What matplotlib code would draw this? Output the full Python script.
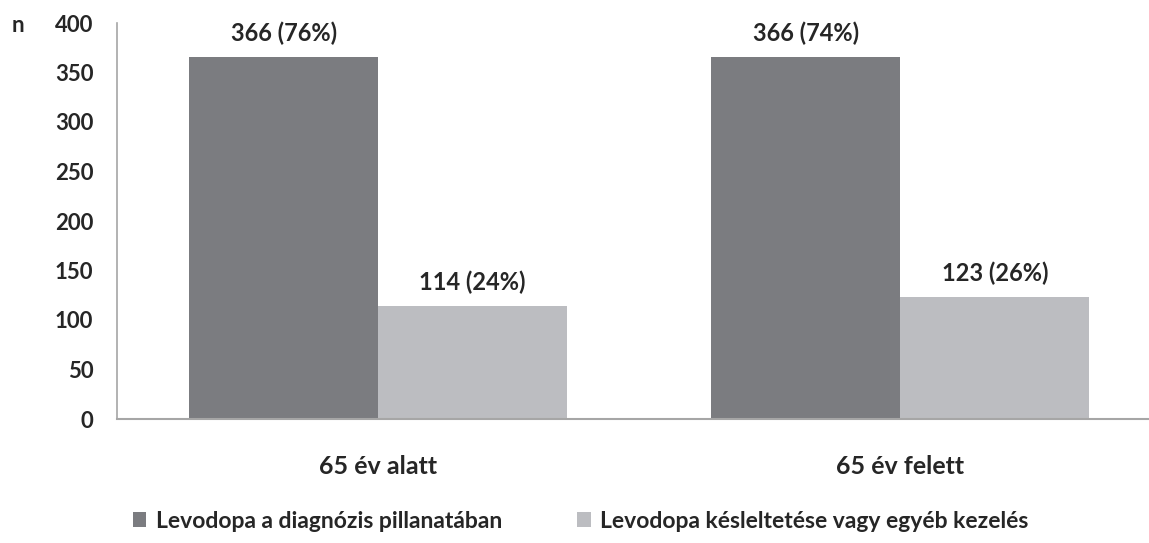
import matplotlib.pyplot as plt
import numpy as np

plt.rcParams['font.family'] = ['Lato', 'DejaVu Sans']

categories = ["65 év alatt", "65 év felett"]
series_names = ["Levodopa a diagnózis pillanatában",
                "Levodopa késleltetése vagy egyéb kezelés"]
levodopa_now = [366, 366]
levodopa_later = [114, 123]
labels_now = ["366 (76%)", "366 (74%)"]
labels_later = ["114 (24%)", "123 (26%)"]
yticks = [0, 50, 100, 150, 200, 250, 300, 350, 400]

dark = "#7b7c80"
light = "#bcbdc1"
axis_col = "#a6a6a6"
txt = "#262626"

fig = plt.figure(figsize=(11.49, 5.43), dpi=100)
ax = fig.add_axes([117 / 1149, 1 - 419 / 543, 1 - 117 / 1149, (419 - 23) / 543])

x = np.arange(len(categories))
w = 0.362
b1 = ax.bar(x - w / 2, levodopa_now, w, color=dark, label=series_names[0])
b2 = ax.bar(x + w / 2, levodopa_later, w, color=light, label=series_names[1])

for bars, labs in [(b1, labels_now), (b2, labels_later)]:
    for rect, lab in zip(bars, labs):
        ax.annotate(lab, (rect.get_x() + rect.get_width() / 2, rect.get_height()),
                    xytext=(0, 17), textcoords="offset points", ha="center", va="center",
                    fontsize=17, fontweight="bold", color=txt)

ax.set_xlim(-0.5, 1.476)
ax.set_ylim(0, 400)
ax.set_yticks(yticks)
ax.set_yticklabels([str(v) for v in yticks], fontsize=16, fontweight="bold", color=txt)
ax.set_xticks(x)
ax.set_xticklabels(categories, fontsize=18, fontweight="bold", color=txt)
ax.tick_params(axis="y", length=0, pad=17)
ax.tick_params(axis="x", length=0, pad=26)

for s in ["top", "right"]:
    ax.spines[s].set_visible(False)
ax.spines["left"].set_color(axis_col)
ax.spines["bottom"].set_color(axis_col)
ax.spines["left"].set_linewidth(1.2)
ax.spines["bottom"].set_linewidth(1.5)

fig.text(12 / 1149, 1 - 25 / 543, "n", fontsize=16, fontweight="bold", color=txt, va="center")

leg = fig.legend(handles=[b1, b2], loc="center left", bbox_to_anchor=(112 / 1149, 1 - 521 / 543),
                 ncol=2, frameon=False, fontsize=16.5, handlelength=0.6, handleheight=0.6,
                 handletextpad=0.4, columnspacing=3.3)
for t in leg.get_texts():
    t.set_fontweight("bold")
    t.set_color(txt)

fig.savefig("out.png", dpi=100)
